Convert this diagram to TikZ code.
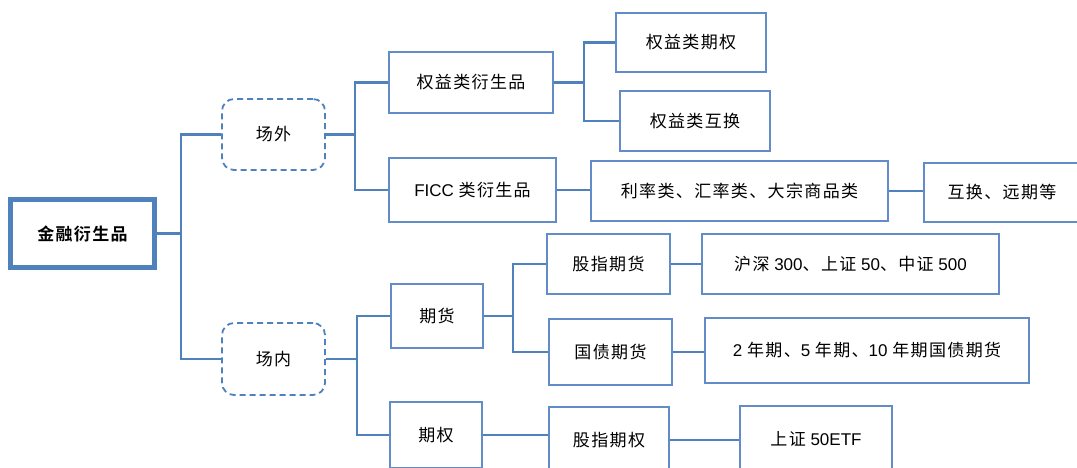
\documentclass[tikz,border=0pt]{standalone}
\usepackage{fontspec}
\setmainfont{Liberation Sans}
\newfontfamily\cj[LetterSpace=8]{Noto Sans CJK SC}
\newfontfamily\cjb[LetterSpace=8]{Noto Sans CJK SC Bold}
\definecolor{lineblue}{RGB}{79,129,189}
\definecolor{boxblue}{RGB}{98,140,200}
\tikzset{
  conn/.style={draw=lineblue, line width=2.2pt},
  box/.style={draw=boxblue, line width=1.6pt, fill=white, inner sep=0pt, align=center, font=\fontsize{17}{19}\selectfont},
  dbox/.style={box, draw=lineblue, dash pattern=on 6pt off 4pt, rounded corners=12pt, line width=1.8pt},
  rootbox/.style={box, draw=lineblue, line width=5pt},
}
\begin{document}
\begin{tikzpicture}[x=1pt,y=-1pt]
\useasboundingbox (0,0) rectangle (1077,468);
\fill[white] (0,0) rectangle (1077,468);
% nodes
\node[rootbox, minimum width=144pt, minimum height=68pt] (root) at (82.5,233.5) {\cjb 金融衍生品};
\node[dbox, minimum width=103pt, minimum height=71pt] (out) at (273.5,134.5) {\cj 场外};
\node[dbox, minimum width=103pt, minimum height=72pt] (in) at (273.5,359) {\cj 场内};
\node[box, minimum width=164pt, minimum height=61pt] (eq) at (471,82.5) {\cj 权益类衍生品};
\node[box, minimum width=167pt, minimum height=64pt] (ficc) at (472.5,190) {FICC {\cj 类衍生品}};
\node[box, minimum width=150pt, minimum height=59pt] (eqopt) at (691,42.5) {\cj 权益类期权};
\node[box, minimum width=150pt, minimum height=60pt] (eqswap) at (695,121) {\cj 权益类互换};
\node[box, minimum width=297pt, minimum height=60pt] (rate) at (739.5,191) {\cj 利率类、汇率类、大宗商品类};
\node[box, minimum width=156pt, minimum height=59pt] (swap) at (1002,192.5) {\cj 互换、远期等};
\node[box, minimum width=92pt, minimum height=64pt] (fut) at (437,316) {\cj 期货};
\node[box, minimum width=92pt, minimum height=66pt] (opt) at (436,435) {\cj 期权};
\node[box, minimum width=123pt, minimum height=60pt] (idxfut) at (608.5,264) {\cj 股指期货};
\node[box, minimum width=123pt, minimum height=66pt] (bondfut) at (610.5,352) {\cj 国债期货};
\node[box, minimum width=297pt, minimum height=60pt] (hs) at (850.5,264) {{\cj 沪深} 300{\cj 、上证} 50{\cj 、中证} 500};
\node[box, minimum width=324pt, minimum height=65pt] (yr) at (867,350.5) {2 {\cj 年期、}5 {\cj 年期、}10 {\cj 年期国债期货}};
\node[box, minimum width=120pt, minimum height=66pt] (idxopt) at (609,440) {\cj 股指期权};
\node[box, minimum width=152pt, minimum height=66pt] (etf) at (816,439) {{\cj 上证} 50ETF};
% junctions
\coordinate (ja) at (181,0);
\coordinate (jb) at (355,0);
\coordinate (jc) at (584,0);
\coordinate (jd) at (357,0);
\coordinate (je) at (513,0);
% connectors
\draw[conn] (root.east) -- (ja |- root.east);
\draw[conn] (out.west) -| (ja |- root.east) |- (in.west);
\draw[conn] (out.east) -- (jb |- out.east);
\draw[conn] (eq.west) -| (jb |- out.east) |- (ficc.west);
\draw[conn] (eq.east) -- (jc |- eq.east);
\draw[conn] (eqopt.west) -| (jc |- eq.east) |- (eqswap.west);
\draw[conn] (ficc.east) -- (rate.west |- ficc.east);
\draw[conn] (rate.east) -- (swap.west |- rate.east);
\draw[conn] (in.east) -- (jd |- in.east);
\draw[conn] (fut.west) -| (jd |- in.east) |- (opt.west);
\draw[conn] (fut.east) -- (je |- fut.east);
\draw[conn] (idxfut.west) -| (je |- fut.east) |- (bondfut.west);
\draw[conn] (idxfut.east) -- (hs.west |- idxfut.east);
\draw[conn] (bondfut.east) -- (yr.west |- bondfut.east);
\draw[conn] (opt.east) -- (idxopt.west |- opt.east);
\draw[conn] (idxopt.east) -- (etf.west |- idxopt.east);
\end{tikzpicture}
\end{document}
